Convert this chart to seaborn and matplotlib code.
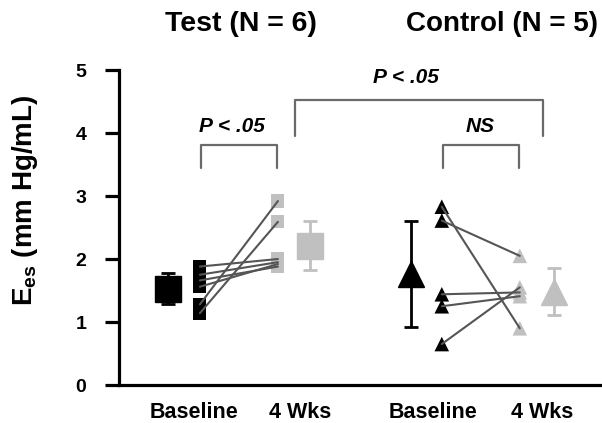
import pandas as pd
import seaborn as sns
import matplotlib.pyplot as plt

# individual values
test_base = [1.88, 1.75, 1.66, 1.56, 1.28, 1.14]
test_4wk = [2.00, 1.95, 1.88, 1.92, 2.92, 2.59]
ctrl_base = [2.83, 2.61, 1.44, 1.25, 0.65]
ctrl_4wk = [0.90, 2.05, 1.47, 1.41, 1.55]

# group means and error bars
test_mean = [1.53, 2.21]
test_err = [0.245, 0.39]
ctrl_mean = [1.76, 1.48]
ctrl_err = [0.84, 0.37]

tick_labels = ["Baseline", "4 Wks", "Baseline", "4 Wks"]

# x positions
x_ind = {"test": (0.0, 1.0), "ctrl": (3.1, 4.1)}
x_mean = {"test": (-0.41, 1.41), "ctrl": (2.71, 4.54)}
x_ticks = [-0.08, 1.28, 2.99, 4.38]

BLACK = "#000000"
GRAY = "#c0c0c0"
LINE = "#555555"

sns.set_style("ticks")
plt.rcParams["font.family"] = ["Liberation Sans", "DejaVu Sans"]
plt.rcParams["font.weight"] = "bold"
plt.rcParams["text.color"] = BLACK
plt.rcParams["axes.labelcolor"] = BLACK
plt.rcParams["xtick.color"] = BLACK
plt.rcParams["ytick.color"] = BLACK
plt.rcParams["mathtext.fontset"] = "custom"
plt.rcParams["mathtext.rm"] = "Liberation Sans:bold"
plt.rcParams["mathtext.default"] = "rm"

rows = []
for i, (b, w) in enumerate(zip(test_base, test_4wk)):
    rows.append({"grp": "test", "subj": f"t{i}", "time": "base", "x": x_ind["test"][0], "val": b})
    rows.append({"grp": "test", "subj": f"t{i}", "time": "4wk", "x": x_ind["test"][1], "val": w})
for i, (b, w) in enumerate(zip(ctrl_base, ctrl_4wk)):
    rows.append({"grp": "ctrl", "subj": f"c{i}", "time": "base", "x": x_ind["ctrl"][0], "val": b})
    rows.append({"grp": "ctrl", "subj": f"c{i}", "time": "4wk", "x": x_ind["ctrl"][1], "val": w})
df = pd.DataFrame(rows)

fig = plt.figure(figsize=(6.02, 4.23), dpi=100)
ax = fig.add_axes([0.1985, 0.0898, 0.7985, 0.7447])

# individual markers
for grp, marker, ms in [("test", "s", 90), ("ctrl", "^", 110)]:
    for time, col in [("base", BLACK), ("4wk", GRAY)]:
        sub = df[(df.grp == grp) & (df.time == time)]
        sns.scatterplot(data=sub, x="x", y="val", marker=marker, s=ms, color=col,
                        edgecolor="none", linewidth=0, ax=ax, zorder=3, legend=False)

# connecting lines per subject
sns.lineplot(data=df, x="x", y="val", units="subj", estimator=None, color=LINE,
             linewidth=1.5, ax=ax, zorder=4, legend=False, sort=False)

# means with error bars
for means, errs, xs, marker, ms in [(test_mean, test_err, x_mean["test"], "s", 18.5),
                                    (ctrl_mean, ctrl_err, x_mean["ctrl"], "^", 19)]:
    for m, e, xx, col in zip(means, errs, xs, [BLACK, GRAY]):
        ax.errorbar(xx, m, yerr=e, fmt=marker, markersize=ms, color=col, mec=col,
                    ecolor=col, elinewidth=2, capsize=5, capthick=2, zorder=3)

# significance brackets
BR = "#6a6a6a"
def bracket(x0, x1, top, bottom):
    ax.plot([x0, x0, x1, x1], [bottom, top, top, bottom], color=BR, lw=1.6,
            clip_on=False, zorder=2)

bracket(0.01, 0.99, 3.81, 3.44)
bracket(3.12, 4.09, 3.81, 3.44)
bracket(1.22, 4.40, 4.53, 3.95)
ax.text(0.41, 4.11, "P < .05", ha="center", va="center", fontsize=15,
        fontweight="bold", style="italic")
ax.text(3.59, 4.11, "NS", ha="center", va="center", fontsize=15,
        fontweight="bold", style="italic")
ax.text(2.64, 4.88, "P < .05", ha="center", va="center", fontsize=15,
        fontweight="bold", style="italic", clip_on=False)

# group titles
ax.text(0.53, 5.73, "Test (N = 6)", ha="center", va="center", fontsize=20.5,
        fontweight="bold", clip_on=False)
ax.text(3.87, 5.73, "Control (N = 5)", ha="center", va="center", fontsize=20,
        fontweight="bold", clip_on=False)

ax.set_xlim(-1.03, 5.13)
ax.set_ylim(0, 5)
ax.set_yticks([0, 1, 2, 3, 4, 5])
ax.set_yticklabels(["0", "1", "2", "3", "4", "5"], fontsize=14, fontweight="bold")
ax.set_xticks(x_ticks)
ax.set_xticklabels(tick_labels, fontsize=15.5, fontweight="bold")
ax.tick_params(axis="x", length=0, pad=12)
ax.tick_params(axis="y", length=10, width=2.3, pad=14, color=BLACK)
ax.set_xlabel("")
ax.set_ylabel(r"E$_{es}$ (mm Hg/mL)", fontsize=20, fontweight="bold", labelpad=26)
ax.yaxis.set_label_coords(-0.165, 0.585)

sns.despine(ax=ax)
for side in ["left", "bottom"]:
    ax.spines[side].set_linewidth(2.3)
    ax.spines[side].set_color(BLACK)

fig.savefig("out.png", dpi=100)
